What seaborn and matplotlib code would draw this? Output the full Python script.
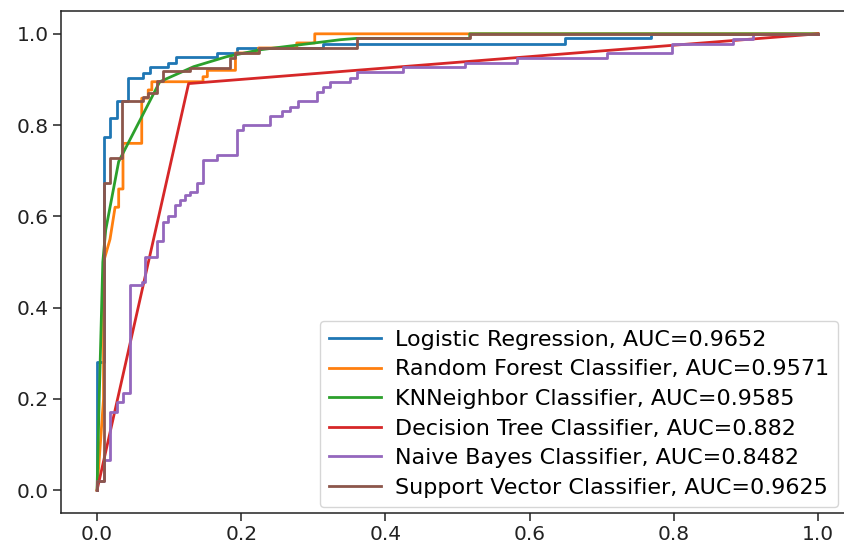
import matplotlib
matplotlib.use("Agg")
import matplotlib.pyplot as plt
import seaborn as sns
import pandas as pd

# ---- data ----
model_names = ["Logistic Regression", "Random Forest Classifier", "KNNeighbor Classifier",
               "Decision Tree Classifier", "Naive Bayes Classifier", "Support Vector Classifier"]
auc_scores = ["0.9652", "0.9571", "0.9585", "0.882", "0.8482", "0.9625"]

fpr_lr = [0, 0, 0.009, 0.009, 0.018, 0.018, 0.027, 0.027, 0.043, 0.043, 0.064, 0.064, 0.074, 0.074,
          0.099, 0.099, 0.11, 0.11, 0.166, 0.166, 0.194, 0.194, 0.314, 0.314, 0.649, 0.649, 0.769, 0.769, 1.0]
tpr_lr = [0, 0.28, 0.28, 0.775, 0.775, 0.815, 0.815, 0.852, 0.852, 0.903, 0.903, 0.915, 0.915, 0.928,
          0.928, 0.937, 0.937, 0.949, 0.949, 0.958, 0.958, 0.969, 0.969, 0.978, 0.978, 0.99, 0.99, 1.0, 1.0]

fpr_rf = [0, 0.009, 0.009, 0.018, 0.025, 0.03, 0.03, 0.036, 0.036, 0.062, 0.062, 0.071, 0.071, 0.076,
          0.076, 0.147, 0.147, 0.153, 0.153, 0.192, 0.192, 0.224, 0.224, 0.277, 0.277, 0.302, 0.302, 1.0]
tpr_rf = [0, 0.2, 0.5, 0.55, 0.62, 0.62, 0.66, 0.66, 0.76, 0.76, 0.859, 0.859, 0.877, 0.877,
          0.895, 0.895, 0.906, 0.906, 0.92, 0.92, 0.958, 0.958, 0.969, 0.969, 0.98, 0.98, 1.0, 1.0]

fpr_knn = [0, 0.003, 0.008, 0.012, 0.03, 0.087, 0.134, 0.18, 0.226, 0.337, 0.36, 0.517, 0.517, 1.0]
tpr_knn = [0, 0.2, 0.5, 0.57, 0.72, 0.895, 0.928, 0.95, 0.965, 0.987, 0.99, 0.99, 1.0, 1.0]

fpr_dt = [0, 0.127, 1.0]
tpr_dt = [0, 0.891, 1.0]

fpr_nb = [0, 0, 0.009, 0.009, 0.018, 0.018, 0.027, 0.027, 0.036, 0.036, 0.046, 0.046, 0.062, 0.062,
          0.066, 0.066, 0.083, 0.083, 0.092, 0.092, 0.099, 0.099, 0.108, 0.108, 0.115, 0.115, 0.122, 0.122,
          0.129, 0.129, 0.138, 0.138, 0.147, 0.147, 0.166, 0.166, 0.194, 0.194, 0.203, 0.203, 0.24, 0.24,
          0.257, 0.257, 0.268, 0.268, 0.279, 0.279, 0.305, 0.305, 0.314, 0.314, 0.323, 0.323, 0.351, 0.351,
          0.36, 0.36, 0.425, 0.425, 0.51, 0.51, 0.582, 0.582, 0.707, 0.707, 0.797, 0.797, 0.882, 0.882,
          0.91, 0.91, 1.0]
tpr_nb = [0, 0.02, 0.02, 0.066, 0.066, 0.172, 0.172, 0.194, 0.194, 0.212, 0.212, 0.45, 0.45, 0.457,
          0.457, 0.512, 0.512, 0.545, 0.545, 0.588, 0.588, 0.6, 0.6, 0.625, 0.625, 0.636, 0.636, 0.647,
          0.647, 0.654, 0.654, 0.673, 0.673, 0.724, 0.724, 0.735, 0.735, 0.789, 0.789, 0.8, 0.8, 0.82,
          0.82, 0.83, 0.83, 0.84, 0.84, 0.852, 0.852, 0.873, 0.873, 0.884, 0.884, 0.895, 0.895, 0.903,
          0.903, 0.916, 0.916, 0.927, 0.927, 0.937, 0.937, 0.947, 0.947, 0.958, 0.958, 0.978, 0.978, 0.988,
          0.988, 1.0, 1.0]

fpr_svc = [0, 0, 0.009, 0.009, 0.018, 0.018, 0.034, 0.034, 0.064, 0.064, 0.071, 0.071, 0.083, 0.083,
           0.092, 0.092, 0.129, 0.129, 0.184, 0.184, 0.191, 0.191, 0.224, 0.224, 0.36, 0.36, 0.517, 0.517, 1.0]
tpr_svc = [0, 0.02, 0.02, 0.673, 0.673, 0.727, 0.727, 0.852, 0.852, 0.861, 0.861, 0.87, 0.87, 0.897,
           0.897, 0.918, 0.918, 0.925, 0.925, 0.947, 0.947, 0.958, 0.958, 0.969, 0.969, 0.99, 0.99, 1.0, 1.0]

fprs = [fpr_lr, fpr_rf, fpr_knn, fpr_dt, fpr_nb, fpr_svc]
tprs = [tpr_lr, tpr_rf, tpr_knn, tpr_dt, tpr_nb, tpr_svc]

labels = [f"{m}, AUC={a}" for m, a in zip(model_names, auc_scores)]
frames = []
for lab, f, t in zip(labels, fprs, tprs):
    frames.append(pd.DataFrame({"fpr": f, "tpr": t, "model": lab}))
df = pd.concat(frames, ignore_index=True)

colors = sns.color_palette("tab10")[:6]
palette = dict(zip(labels, colors))

plt.rcParams["font.family"] = ["DejaVu Sans"]

fig = plt.figure(figsize=(8.45, 5.44), dpi=100)
W, H = 845, 544
left_px, right_px, top_px, bottom_px = 61, 854, 11, 513
ax = fig.add_axes([left_px / W, (H - bottom_px) / H, (right_px - left_px) / W, (bottom_px - top_px) / H])

sns.lineplot(data=df, x="fpr", y="tpr", hue="model", hue_order=labels, palette=palette,
             sort=False, estimator=None, linewidth=2.0, legend=False, ax=ax)

ax.set_xlim(-0.05, 1.05)
ax.set_ylim(-0.05, 1.05)
ax.set_xticks([0, 0.2, 0.4, 0.6, 0.8, 1.0])
ax.set_yticks([0, 0.2, 0.4, 0.6, 0.8, 1.0])
ax.set_xlabel("")
ax.set_ylabel("")
ax.tick_params(labelsize=14.5, length=5.5, width=1.1, colors="#222222")
for s in ax.spines.values():
    s.set_linewidth(1.1)
    s.set_color("#222222")
ax.spines["right"].set_visible(False)

handles = ax.get_lines()[:6]
leg = ax.legend(handles, labels, loc="lower right",
                bbox_to_anchor=((838 - left_px) / (right_px - left_px), (bottom_px - 507) / (bottom_px - top_px)),
                borderaxespad=0, fontsize=16, labelspacing=0.43, handlelength=2.35,
                handletextpad=0.6, borderpad=0.42, framealpha=0.8)
for line in leg.get_lines():
    line.set_linewidth(2.0)

fig.savefig("out.png", dpi=100)
